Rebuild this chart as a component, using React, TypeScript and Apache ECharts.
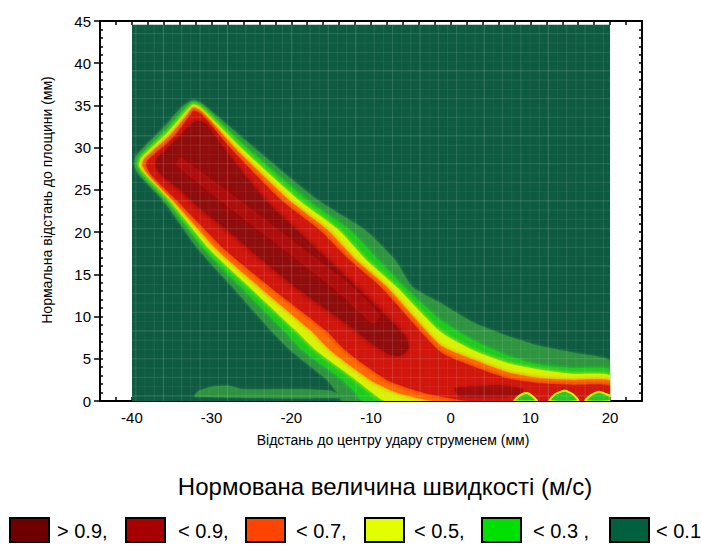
import React, { useEffect, useRef } from "react";
import * as echarts from "echarts";

// Axis ranges and tick labels
const xRange = [-44, 24];
const yRange = [0, 45];
const xLabelStep = 10;
const yLabelStep = 5;

// Measured field extent (data units)
const fieldX = [-40, 20];
const fieldY = [0, 44.6];

// Contour polygons: [distance along wall (mm), normal distance (mm)]
const level01 = [[-13.6,0],[-14.2,0.95],[-15.5,2.5],[-20.1,6.0],[-22.6,8.4],[-27.0,13.1],[-31.6,17.9],[-36.1,23.8],[-39.0,26.7],[-39.7,27.9],[-39.5,29.0],[-36.1,32.3],[-33.6,34.9],[-32.3,35.6],[-31.1,35.1],[-24.3,29.7],[-16.7,23.8],[-10.7,20.2],[-7.0,16.7],[-4.8,13.5],[-1.3,11.6],[2.8,9.3],[7.1,7.7],[11.2,6.5],[15.4,5.7],[20,4.7],[20,0]];
const level02 = [[-11.1,0],[-11.9,0.95],[-13.6,2.5],[-18.6,6.0],[-21.0,8.4],[-25.9,13.1],[-30.9,17.9],[-35.7,23.8],[-38.6,26.7],[-39.3,27.9],[-39.1,28.9],[-35.8,32.0],[-33.3,34.7],[-32.3,35.4],[-31.2,34.9],[-25.2,29.7],[-18.0,23.8],[-12.6,20.2],[-9.1,16.7],[-5.8,13.5],[-3.7,11.6],[-1.3,9.6],[2.8,7.2],[7.1,5.4],[11.2,4.3],[15.4,3.9],[20,3.7],[20,0]];
const level03 = [[-8.2,0],[-9.8,0.95],[-11.9,2.5],[-16.9,6.0],[-19.5,8.4],[-24.8,13.1],[-30.2,17.9],[-35.3,23.8],[-38.2,26.7],[-39.1,27.9],[-38.8,28.8],[-35.6,31.7],[-33.1,34.4],[-32.3,35.1],[-31.3,34.7],[-26.0,29.7],[-19.1,23.8],[-14.0,20.2],[-10.6,16.7],[-6.8,13.5],[-1.3,8.2],[2.8,6.0],[7.1,4.5],[11.2,3.7],[15.4,3.2],[20,3.0],[20,0]];
const level05 = [[-1.9,0],[-6.6,0.95],[-10.1,2.5],[-15.1,6.0],[-17.6,8.4],[-23.5,13.1],[-29.3,17.9],[-34.9,23.8],[-37.8,26.7],[-38.7,27.9],[-38.5,28.6],[-35.2,31.5],[-32.8,34.2],[-32.3,34.8],[-31.3,34.3],[-26.8,29.7],[-20.3,23.8],[-15.4,20.2],[-11.9,16.7],[-8.0,13.5],[-1.3,6.6],[2.8,4.9],[7.1,3.4],[11.2,2.7],[15.4,2.5],[20,2.4],[20,0]];
const level07 = [[2.5,0],[-3.2,0.95],[-8.0,2.5],[-13.2,6.0],[-15.7,8.4],[-22.1,13.1],[-28.3,17.9],[-34.4,23.8],[-37.5,26.7],[-38.2,27.9],[-38.0,28.5],[-34.8,31.2],[-32.6,34.0],[-32.3,34.4],[-31.3,34.0],[-27.4,29.7],[-21.3,23.8],[-16.4,20.2],[-12.7,16.7],[-8.8,13.5],[-1.3,5.8],[2.8,4.1],[7.1,2.7],[11.2,2.1],[15.4,1.9],[20,1.8],[20,0]];
const level09 = [[-31.4,33.1],[-30.7,32.8],[-28.3,29.7],[-23.3,23.8],[-19.3,20.2],[-15.4,16.7],[-11.4,13.1],[-7.3,9.3],[-5.7,7.6],[-5.3,6.3],[-6.3,5.4],[-7.8,5.6],[-10.1,7.0],[-13.2,9.3],[-18.9,13.1],[-23.9,16.9],[-27.7,20.0],[-31.4,22.8],[-34.2,25.2],[-36.2,26.7],[-37.0,27.9],[-36.7,28.8],[-34.2,31.1],[-32.2,33.0]];
const coreStripe = [[-33.9,28.9],[-13.2,14.2],[-8.8,10.1],[-9.8,9.2],[-14.4,13.1],[-34.4,27.9]];
const wallPatch = [[0.6,1.5],[6.2,1.8],[9.0,1.4],[8.7,0.7],[5.0,0.5],[1.0,0.6]];
const wallBump1 = [[8.0,0],[8.6,0.6],[9.5,0.95],[10.2,0.6],[10.8,0]];
const wallBump2 = [[12.4,0],[13.1,0.8],[14.3,1.2],[15.3,0.8],[16.0,0]];
const wallBump3 = [[16.9,0],[17.6,0.7],[18.6,1.1],[19.5,0.8],[20,0.6],[20,0]];
const wallShelf = [[-32.1,0.5],[-31.6,1.2],[-29.9,1.7],[-27.9,1.8],[-26.2,1.4],[-18.9,1.4],[-15.1,1.2],[-13.9,0.7],[-14.1,0.35]];

// Legend
const legendLabels = ["> 0.9,", "< 0.9,", "< 0.7,", "< 0.5,", "< 0.3 ,", "< 0.1"];
const legendColors = ["#6e0000", "#a80000", "#ff4400", "#e2ff00", "#00e000", "#006040"];

const titleText = "Нормована величина швидкості (м/с)";
const xName = "Відстань до центру удару струменем (мм)";
const yName = "Нормальна відстань до площини (мм)";

const FONT = "'Liberation Sans', Arial, sans-serif";

export default function App() {
  const ref = useRef<HTMLDivElement>(null);
  useEffect(() => {
    if (!ref.current) return;
    document.body.style.margin = "0";
    const chart = echarts.init(ref.current, null, { renderer: "svg" });

    const renderItem = (params: any, api: any) => {
      const c = (p: number[]) => api.coord(p);
      const tl = c([fieldX[0], fieldY[1]]);
      const br = c([fieldX[1], fieldY[0]]);
      const poly = (pts: number[][], fill: string, blur: number, extra: any = {}) => ({
        type: "polygon",
        shape: { points: pts.map(c), smooth: 0.2 },
        style: { fill, shadowBlur: blur, shadowColor: fill, ...extra },
        silent: true,
      });
      const children: any[] = [
        { type: "rect", shape: { x: tl[0], y: tl[1], width: br[0] - tl[0], height: br[1] - tl[1] }, style: { fill: "#0f5b42" } },
        poly(wallShelf, "#2f9340", 2),
        poly(level01, "#2f9440", 3),
        poly(level02, "#1fcb1f", 4),
        poly(level03, "#d8f203", 4),
        poly(level05, "#ff6a06", 4),
        poly(level07, "#d11410", 4),
        poly(level09, "#900a08", 6),
        poly(coreStripe, "#ad0e0a", 6),
        poly(wallPatch, "#a00808", 3),
        poly(wallBump1, "#25c525", 1, { stroke: "#e0f000", lineWidth: 2 }),
        poly(wallBump2, "#25c525", 1, { stroke: "#e0f000", lineWidth: 2 }),
        poly(wallBump3, "#25c525", 1, { stroke: "#e0f000", lineWidth: 2 }),
      ];
      // plaid texture overlay (decorative)
      const alphas = [0.15, 0.06, 0.1, 0.2, 0.05, 0.13, 0.08];
      let k = 0;
      for (let x = fieldX[0] + 0.5; x < fieldX[1]; x += 1.15) {
        const px = c([x, 0])[0];
        children.push({ type: "line", shape: { x1: px, y1: tl[1], x2: px, y2: br[1] }, style: { stroke: `rgba(225,235,225,${alphas[k % alphas.length]})`, lineWidth: 1 }, silent: true });
        k++;
      }
      for (let y = fieldY[0] + 0.6; y < fieldY[1]; y += 1.1) {
        const py = c([0, y])[1];
        children.push({ type: "line", shape: { x1: tl[0], y1: py, x2: br[0], y2: py }, style: { stroke: `rgba(225,235,225,${alphas[k % alphas.length]})`, lineWidth: 1 }, silent: true });
        k++;
      }
      return {
        type: "group",
        children,
        clipPath: { type: "rect", shape: { x: tl[0], y: tl[1], width: br[0] - tl[0], height: br[1] - tl[1] } },
      };
    };

    const boxXs = [10, 126, 246, 365, 482, 610];
    const textXs = [57, 178, 296, 414, 533, 656];
    const graphics: any[] = [
      { type: "text", x: 393, y: 440, style: { text: xName, font: `14px ${FONT}`, fill: "#000", textAlign: "center", textVerticalAlign: "middle" } },
      { type: "text", x: 47, y: 200, rotation: Math.PI / 2, style: { text: yName, font: `14px ${FONT}`, fill: "#000", textAlign: "center", textVerticalAlign: "middle" } },
      { type: "text", x: 385, y: 486, style: { text: titleText, font: `24px ${FONT}`, fill: "#000", textAlign: "center", textVerticalAlign: "middle" } },
    ];
    legendLabels.forEach((lab, i) => {
      graphics.push({ type: "rect", shape: { x: boxXs[i], y: 518, width: 39, height: 24 }, style: { fill: legendColors[i], stroke: "#000", lineWidth: 2 } });
      graphics.push({ type: "text", x: textXs[i], y: 531, style: { text: lab, font: `20px ${FONT}`, fill: "#000", textVerticalAlign: "middle" } });
    });

    const lineStyle = { color: "#000", width: 2 };
    chart.setOption({
      animation: false,
      backgroundColor: "#fff",
      grid: { left: 100, top: 21, right: 59, bottom: 145, containLabel: false },
      xAxis: [
        {
          type: "value", min: xRange[0], max: xRange[1], interval: 2, position: "bottom",
          axisLine: { show: true, onZero: false, lineStyle },
          axisTick: { show: true, inside: true, length: 4, lineStyle: { color: "#000", width: 1.5 } },
          axisLabel: { formatter: (v: number) => (v % xLabelStep === 0 ? String(v) : ""), color: "#000", fontSize: 15, fontFamily: FONT, margin: 9 },
          splitLine: { show: false },
        },
        {
          type: "value", min: xRange[0], max: xRange[1], interval: 2, position: "top",
          axisLine: { show: true, onZero: false, lineStyle },
          axisTick: { show: true, inside: true, length: 4, lineStyle: { color: "#000", width: 1.5 } },
          axisLabel: { show: false },
          splitLine: { show: false },
        },
      ],
      yAxis: [
        {
          type: "value", min: yRange[0], max: yRange[1], interval: yLabelStep, position: "left",
          axisLine: { show: true, onZero: false, lineStyle },
          axisTick: { show: true, inside: false, length: 6, lineStyle: { color: "#000", width: 1.5 } },
          axisLabel: { color: "#000", fontSize: 15, fontFamily: FONT, margin: 9 },
          splitLine: { show: false },
        },
        {
          type: "value", min: yRange[0], max: yRange[1], interval: 1, position: "left",
          axisLine: { show: false, onZero: false },
          axisTick: { show: true, inside: true, length: 3, lineStyle: { color: "#000", width: 1.5 } },
          axisLabel: { show: false },
          splitLine: { show: false },
        },
        {
          type: "value", min: yRange[0], max: yRange[1], interval: 1, position: "right",
          axisLine: { show: true, onZero: false, lineStyle },
          axisTick: { show: true, inside: true, length: 3, lineStyle: { color: "#000", width: 1.5 } },
          axisLabel: { show: false },
          splitLine: { show: false },
        },
      ],
      series: [
        {
          type: "custom",
          coordinateSystem: "cartesian2d",
          xAxisIndex: 0,
          yAxisIndex: 0,
          data: [[fieldX[0], fieldY[0]]],
          renderItem,
          z: 1,
          silent: true,
        },
      ],
      graphic: graphics,
    });
    return () => chart.dispose();
  }, []);
  return <div ref={ref} style={{ width: 701, height: 546 }} />;
}
